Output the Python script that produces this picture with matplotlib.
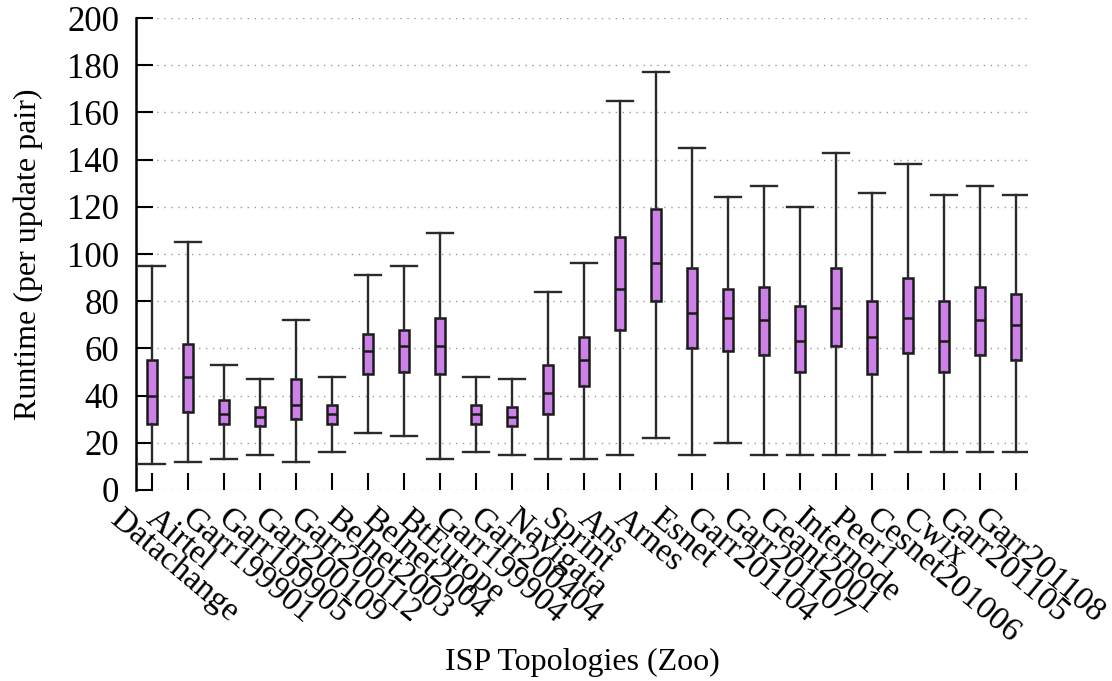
import numpy as np
import matplotlib
matplotlib.use('Agg')
import matplotlib.pyplot as plt
import matplotlib.transforms as mtransforms

# ------------------------------------------------------
# DATA
# ------------------------------------------------------

topologies = ['Datachange', 'Airtel', 'Garr199901', 'Garr199905', 'Garr200109',
              'Garr200112', 'Belnet2003', 'Belnet2004', 'BtEurope', 'Garr199904',
              'Garr200404', 'Navigata', 'Sprint', 'Ans', 'Arnes', 'Esnet',
              'Garr201104', 'Garr201107', 'Geant2001', 'Internode', 'Peer1',
              'Cesnet201006', 'Cwix', 'Garr201105', 'Garr201108']

whisker_low = [11, 12, 13, 15, 12, 16, 24, 23, 13, 16, 15, 13, 13, 15, 22, 15,
               20, 15, 15, 15, 15, 16, 16, 16, 16]
q1 = [28, 33, 28, 27, 30, 28, 49, 50, 49, 28, 27, 32, 44, 68, 80, 60,
      59, 57, 50, 61, 49, 58, 50, 57, 55]
median = [40, 48, 32, 31, 36, 32, 59, 61, 61, 32, 31, 41, 55, 85, 96, 75,
          73, 72, 63, 77, 65, 73, 63, 72, 70]
q3 = [55, 62, 38, 35, 47, 36, 66, 68, 73, 36, 35, 53, 65, 107, 119, 94,
      85, 86, 78, 94, 80, 90, 80, 86, 83]
whisker_high = [95, 105, 53, 47, 72, 48, 91, 95, 109, 48, 47, 84, 96, 165, 177, 145,
                124, 129, 120, 143, 126, 138, 125, 129, 125]

# ------------------------------------------------------
# PLOT
# ------------------------------------------------------

plt.rcParams['font.family'] = ['Liberation Serif', 'DejaVu Serif']
plt.rcParams['font.size'] = 23

fig = plt.figure(figsize=(11.12, 6.81), dpi=100)
ax = fig.add_axes([136/1112, 1-490/681, (1028-136)/1112, (490-18)/681])

# Build box stats for bxp
stats = []
for i in range(len(topologies)):
    stats.append({'whislo': whisker_low[i], 'q1': q1[i], 'med': median[i],
                  'q3': q3[i], 'whishi': whisker_high[i], 'fliers': []})

positions = np.arange(1, len(topologies)+1)
edge = '#1a1a1a'
ax.bxp(stats, positions=positions, widths=0.3, capwidths=0.7, patch_artist=True,
       showfliers=False,
       boxprops=dict(facecolor='#CC80E8', edgecolor=edge, linewidth=1.8),
       medianprops=dict(color=edge, linewidth=1.8),
       whiskerprops=dict(color='#2a2a2a', linewidth=1.7),
       capprops=dict(color='#2a2a2a', linewidth=1.7),
       zorder=3)

# Axis limits
ax.set_xlim(1-16/36., 25+12/36.)
ax.set_ylim(0, 200)
ax.set_yticks(np.arange(0, 201, 20))

# Grid on y only, dotted
ax.yaxis.grid(True, color='#999999', linestyle=(0, (1, 4)), linewidth=1.0)
ax.xaxis.grid(False)
ax.set_axisbelow(True)

# Only the left border
for s in ['top', 'right', 'bottom']:
    ax.spines[s].set_visible(False)
ax.spines['left'].set_linewidth(1.8)

ax.tick_params(axis='y', direction='in', length=12, width=1.5, pad=12, labelsize=25)
ax.tick_params(axis='x', direction='in', length=12, width=1.5, pad=0, labelsize=24)

# Rotated x tick labels
ax.set_xticks(positions)
ax.set_xticklabels(topologies, rotation=-40, ha='left', va='center',
                   rotation_mode='anchor')
offset = mtransforms.ScaledTranslation(-38/100., -25/100., fig.dpi_scale_trans)
for lab in ax.get_xticklabels():
    lab.set_transform(lab.get_transform() + offset)

# Axis labels
ax.set_ylabel('Runtime (per update pair)')
ax.yaxis.set_label_coords((43-136)/892., 0.5)
fig.text(582/1112., 1-662/681., 'ISP Topologies (Zoo)', ha='center', va='center')

fig.savefig('out.png', dpi=100)
plt.close('all')
